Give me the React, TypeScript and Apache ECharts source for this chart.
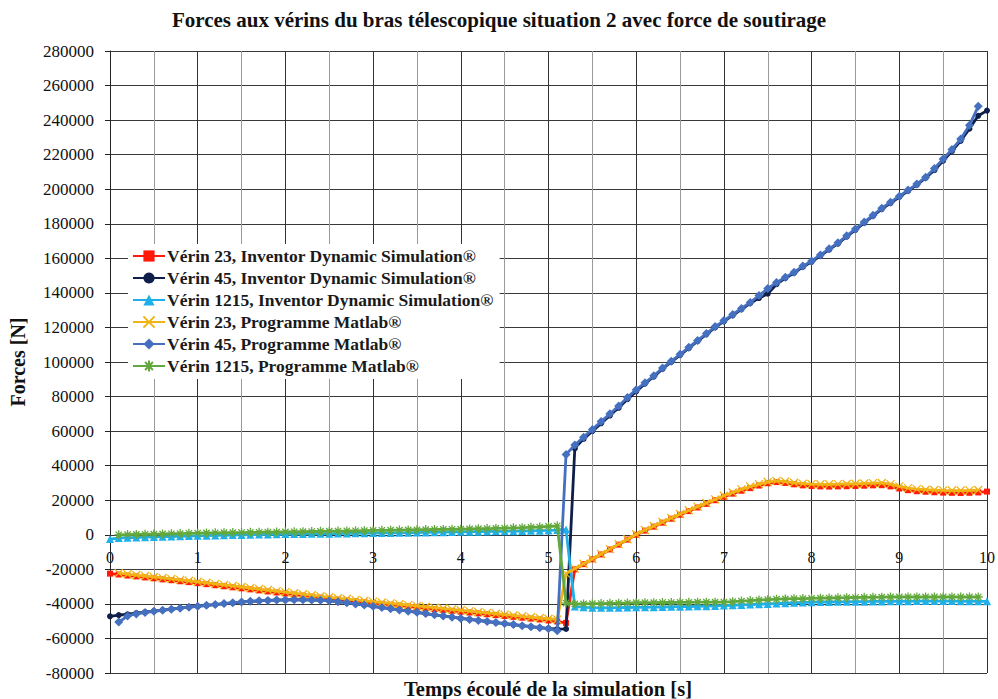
import React, { useEffect, useRef } from "react";
import * as echarts from "echarts";

const titleText = "Forces aux vérins du bras télescopique situation 2 avec force de soutirage";
const xAxisTitle = "Temps écoulé de la simulation [s]";
const yAxisTitle = "Forces [N]";

const times = [
  0, 0.1, 0.2, 0.3, 0.4, 0.5, 0.6, 0.7, 0.8, 0.9, 1,
  1.1, 1.2, 1.3, 1.4, 1.5, 1.6, 1.7, 1.8, 1.9, 2,
  2.1, 2.2, 2.3, 2.4, 2.5, 2.6, 2.7, 2.8, 2.9, 3,
  3.1, 3.2, 3.3, 3.4, 3.5, 3.6, 3.7, 3.8, 3.9, 4,
  4.1, 4.2, 4.3, 4.4, 4.5, 4.6, 4.7, 4.8, 4.9, 5,
  5.1, 5.2, 5.3, 5.4, 5.5, 5.6, 5.7, 5.8, 5.9, 6,
  6.1, 6.2, 6.3, 6.4, 6.5, 6.6, 6.7, 6.8, 6.9, 7,
  7.1, 7.2, 7.3, 7.4, 7.5, 7.6, 7.7, 7.8, 7.9, 8,
  8.1, 8.2, 8.3, 8.4, 8.5, 8.6, 8.7, 8.8, 8.9, 9,
  9.1, 9.2, 9.3, 9.4, 9.5, 9.6, 9.7, 9.8, 9.9, 10,
];

const verin23Inventor = [
  -22500, -23000, -23600, -24100, -24700, -25200, -25800, -26300, -26900, -27400, -28000,
  -28600, -29200, -29800, -30400, -31000, -31600, -32200, -32800, -33400, -34000,
  -34600, -35200, -35800, -36400, -37000, -37500, -38000, -38500, -39000, -39500,
  -40000, -40500, -41000, -41500, -42000, -42500, -43000, -43500, -44000, -44500,
  -45000, -45500, -46000, -46500, -47000, -47500, -48000, -48500, -49000, -49600,
  -50200, -51000, -20000, -17000, -14200, -11400, -8500, -5700, -2800, 0,
  2400, 4700, 7000, 9300, 11600, 13700, 15800, 17900, 20000, 22000,
  23800, 25500, 27000, 28500, 29800, 30500, 30000, 29200, 28600, 28200,
  28000, 27900, 28000, 28100, 28200, 28400, 28600, 28700, 28000, 26800,
  25800, 25200, 24900, 24600, 24400, 24300, 24200, 24300, 24500, 25000,
];

const verin45Inventor = [
  -47200, -46500, -46000, -45400, -44800, -44200, -43600, -43000, -42400, -41900, -41400,
  -40900, -40400, -39900, -39400, -39000, -38600, -38300, -38000, -37800, -37700,
  -37600, -37600, -37700, -37900, -38200, -38700, -39300, -40000, -40700, -41400,
  -42100, -42800, -43500, -44200, -44900, -45600, -46300, -47000, -47700, -48400,
  -49000, -49600, -50200, -50800, -51400, -52000, -52600, -53200, -53700, -54200,
  -54600, -54500, 50000, 55500, 60000, 64500, 69000, 73500, 78500, 83000,
  87500, 91500, 96000, 100000, 104000, 108000, 112000, 116000, 120000, 123500,
  127000, 130500, 134000, 137000, 139500, 145000, 148500, 151500, 155000, 158000,
  161500, 165000, 168500, 172500, 176500, 180500, 184500, 188500, 192000, 195500,
  199000, 202500, 206500, 211000, 216500, 222000, 228000, 235000, 242500, 245500,
];

const verin1215Inventor = [
  -2500, -1900, -1700, -1600, -1400, -1300, -1100, -1000, -900, -700, -600,
  -500, -400, -300, -200, -100, 0, 100, 200, 300, 400,
  450, 500, 550, 600, 650, 700, 800, 850, 900, 1000,
  1050, 1100, 1150, 1200, 1300, 1350, 1400, 1500, 1600, 1700,
  1750, 1800, 1900, 2000, 2050, 2100, 2200, 2300, 2400, 2500,
  2700, 3000, -41500, -42000, -42200, -42300, -42300, -42200, -42100, -42000,
  -42000, -41900, -41800, -41700, -41600, -41500, -41400, -41300, -41200, -41000,
  -40800, -40600, -40400, -40200, -40000, -39800, -39600, -39400, -39200, -39000,
  -38900, -38900, -38800, -38800, -38700, -38700, -38600, -38600, -38500, -38500,
  -38500, -38400, -38400, -38400, -38400, -38400, -38500, -38500, -38500, -38500,
];

const verin23Matlab = [
  null, -22200, -22800, -23300, -23900, -24400, -25000, -25500, -26100, -26600, -27200,
  -27800, -28400, -29000, -29600, -30200, -30800, -31400, -32000, -32600, -33200,
  -33800, -34400, -35000, -35600, -36200, -36700, -37200, -37700, -38200, -38700,
  -39200, -39700, -40200, -40700, -41200, -41700, -42200, -42700, -43200, -43700,
  -44200, -44700, -45200, -45700, -46200, -46700, -47200, -47700, -48200, -48600,
  -49000, -22500, -19600, -16800, -14000, -11100, -8300, -5400, -2600, 300,
  2800, 5100, 7400, 9700, 12000, 14200, 16300, 18400, 20500, 22600,
  24500, 26300, 27900, 29300, 30500, 31200, 30800, 30100, 29600, 29300,
  29200, 29200, 29300, 29400, 29500, 29700, 29900, 30000, 29300, 28000,
  27000, 26400, 26100, 25900, 25700, 25600, 25600, 25700, 25900, null,
];

const verin45Matlab = [
  null, -50500, -47000, -45800, -45000, -44300, -43700, -43100, -42500, -41900, -41300,
  -40800, -40300, -39800, -39300, -38900, -38500, -38200, -38000, -37800, -37700,
  -37600, -37600, -37700, -37900, -38200, -38700, -39300, -40000, -40700, -41400,
  -42100, -42800, -43500, -44200, -44900, -45600, -46300, -47000, -47700, -48400,
  -49000, -49600, -50200, -50800, -51400, -52000, -52600, -53200, -53800, -54400,
  -55500, 46500, 52000, 56500, 61000, 65500, 70000, 74500, 79500, 84000,
  88000, 92000, 96500, 100500, 104500, 108500, 112500, 116500, 120500, 124000,
  127500, 131000, 134500, 138500, 142500, 146000, 149000, 152000, 155500, 158500,
  162000, 165500, 169000, 173000, 177000, 181000, 185000, 189000, 192500, 196000,
  199500, 203000, 207000, 212000, 217500, 223000, 229000, 237000, 248000, null,
];

const verin1215Matlab = [
  null, 0, 100, 200, 300, 400, 500, 600, 700, 850, 1000,
  1100, 1150, 1200, 1250, 1300, 1400, 1450, 1500, 1600, 1700,
  1750, 1800, 1900, 2000, 2100, 2150, 2200, 2300, 2400, 2500,
  2600, 2650, 2700, 2800, 2900, 3000, 3050, 3100, 3200, 3300,
  3400, 3500, 3600, 3700, 3800, 4000, 4100, 4300, 4500, 4800,
  5200, -39500, -40000, -40000, -39900, -39800, -39700, -39600, -39500, -39300,
  -39300, -39300, -39200, -39200, -39100, -39100, -39000, -39000, -39000, -39000,
  -38700, -38400, -38100, -37800, -37500, -37300, -37100, -37000, -36900, -36800,
  -36700, -36600, -36500, -36400, -36300, -36200, -36200, -36100, -36000, -36000,
  -36000, -36000, -36000, -36000, -36000, -36000, -36000, -36000, -36000, null,
];

const seriesNames = [
  "Vérin 23, Inventor Dynamic Simulation®",
  "Vérin 45, Inventor Dynamic Simulation®",
  "Vérin 1215, Inventor Dynamic Simulation®",
  "Vérin 23, Programme Matlab®",
  "Vérin 45, Programme Matlab®",
  "Vérin 1215, Programme Matlab®",
];

const FONT = "'Liberation Serif', 'Times New Roman', serif";

function toPairs(vals: (number | null)[]) {
  const out: [number, number][] = [];
  vals.forEach((v, i) => {
    if (v !== null) out.push([times[i], v]);
  });
  return out;
}

export default function App() {
  const ref = useRef<HTMLDivElement>(null);
  useEffect(() => {
    if (!ref.current) return;
    const chart = echarts.init(ref.current, null, { renderer: "svg" });
    const styles = [
      { color: "#ff1a0a", symbol: "rect", size: 6 },
      { color: "#0f1f4a", symbol: "circle", size: 6 },
      { color: "#1fb0ea", symbol: "triangle", size: 8 },
      { color: "#f0b416", symbol: "path://M0,0L10,10M10,0L0,10", size: 8 },
      { color: "#4570c0", symbol: "diamond", size: 9 },
      { color: "#62a83c", symbol: "path://M5,0L5,10M0,5L10,5M1.5,1.5L8.5,8.5M8.5,1.5L1.5,8.5", size: 9 },
    ];
    const datas = [verin23Inventor, verin45Inventor, verin1215Inventor, verin23Matlab, verin45Matlab, verin1215Matlab];
    const gridTop = 51;
    const gridBottom = 26;
    const yMin = -80000;
    const yMax = 280000;
    const plotH = 699 - gridTop - gridBottom;
    const zeroOffset = -(plotH * (0 - yMin)) / (yMax - yMin);
    chart.setOption({
      animation: false,
      backgroundColor: "#ffffff",
      title: {
        text: titleText,
        left: "center",
        top: 4,
        textStyle: { fontFamily: FONT, fontWeight: "bold", fontSize: 21, color: "#111" },
      },
      legend: {
        orient: "vertical",
        left: 128,
        top: 244,
        padding: [3, 6, 4, 4],
        backgroundColor: "#ffffff",
        itemWidth: 32,
        itemHeight: 14,
        itemGap: 4,
        textStyle: { fontFamily: FONT, fontWeight: "bold", fontSize: 17.5, color: "#1a1a1a", padding: [0, 0, 0, -3] },
        data: seriesNames,
      },
      grid: { left: 106, right: 8, top: gridTop, bottom: gridBottom },
      xAxis: {
        type: "value",
        min: 0,
        max: 10,
        interval: 1,
        position: "bottom",
        offset: zeroOffset,
        axisLine: { onZero: false, lineStyle: { color: "#333", width: 1 } },
        axisTick: { show: false },
        axisLabel: { fontFamily: FONT, fontSize: 16, color: "#111", margin: 15 },
        splitLine: { show: true, lineStyle: { color: "#333", width: 1 } },
        minorTick: { show: false, splitNumber: 2 },
        minorSplitLine: { show: true, lineStyle: { color: "#9a9a9a", width: 1 } },
      },
      yAxis: {
        type: "value",
        min: yMin,
        max: yMax,
        interval: 20000,
        name: yAxisTitle,
        nameLocation: "middle",
        nameGap: 82,
        nameTextStyle: { fontFamily: FONT, fontWeight: "bold", fontSize: 20, color: "#111" },
        axisLine: { show: true, onZero: false, lineStyle: { color: "#222", width: 1 } },
        axisTick: { show: true, length: 5, lineStyle: { color: "#222" } },
        axisLabel: {
          fontFamily: FONT,
          fontSize: 17,
          color: "#111",
          margin: 16,
          formatter: (v: number) => String(v),
        },
        splitLine: { show: true, lineStyle: { color: "#3a3a3a", width: 1 } },
      },
      graphic: [
        {
          type: "text",
          x: 548,
          y: 689,
          style: {
            text: xAxisTitle,
            font: "bold 20.5px " + FONT,
            fill: "#111",
            textAlign: "center",
            textVerticalAlign: "middle",
          },
        },
      ],
      series: seriesNames.map((name, i) => ({
        name,
        type: "line",
        data: toPairs(datas[i] as (number | null)[]),
        symbol: styles[i].symbol,
        symbolSize: styles[i].size,
        showSymbol: true,
        showAllSymbol: true,
        connectNulls: false,
        lineStyle: { color: styles[i].color, width: 2.8 },
        itemStyle: { color: styles[i].color, borderColor: styles[i].color, borderWidth: i === 3 || i === 5 ? 1.3 : 0 },
        emphasis: { disabled: true },
        z: 2 + i,
      })),
    });
    return () => chart.dispose();
  }, []);
  return <div ref={ref} style={{ position: "fixed", left: 0, top: 0, width: 998, height: 699 }} />;
}
